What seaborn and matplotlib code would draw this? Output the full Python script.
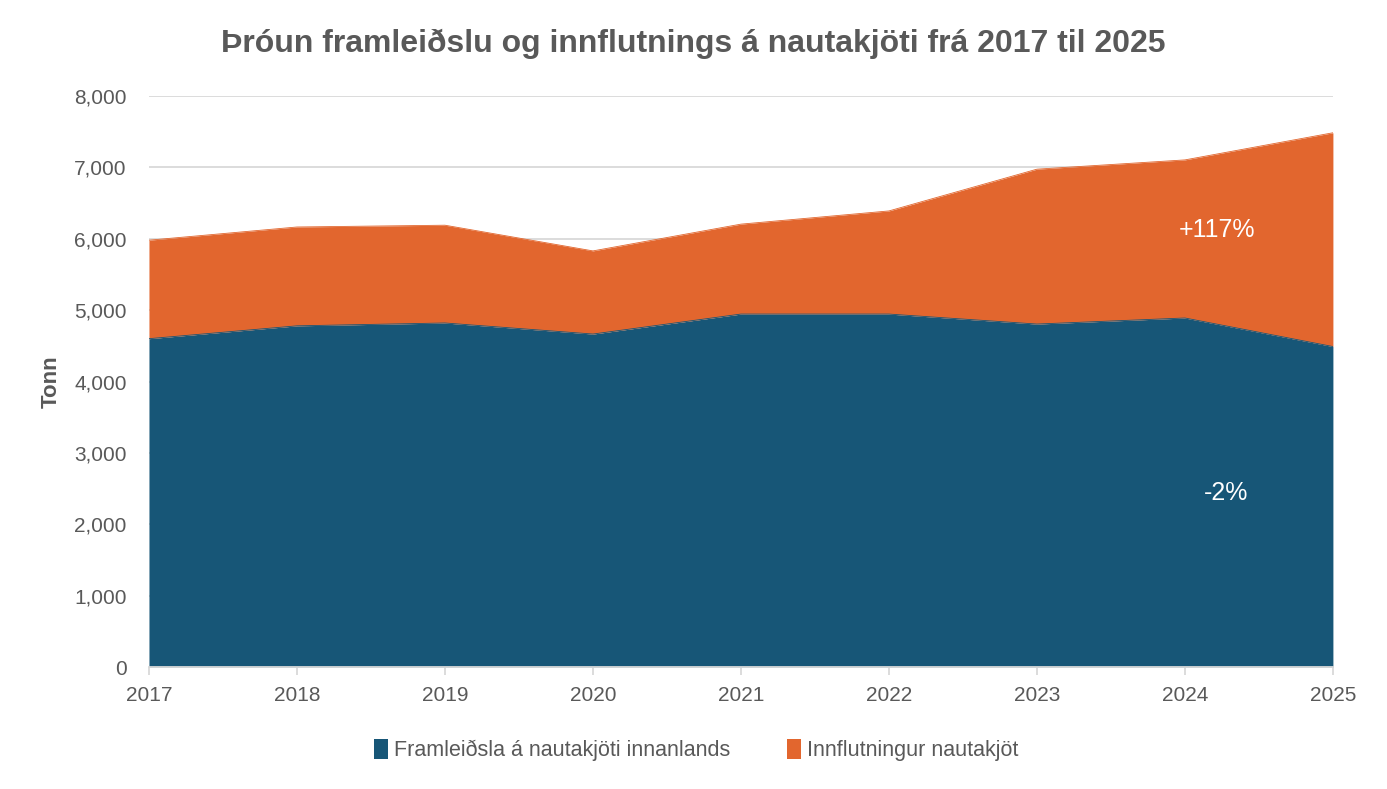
import matplotlib
matplotlib.use("Agg")
import matplotlib.pyplot as plt
import matplotlib.ticker as mticker
from matplotlib.patches import Patch
import seaborn as sns
import pandas as pd

# ── data (tonnes) ──
years = [2017, 2018, 2019, 2020, 2021, 2022, 2023, 2024, 2025]
domestic = [4600, 4780, 4820, 4665, 4945, 4945, 4805, 4890, 4490]
imports = [1380, 1385, 1370, 1165, 1260, 1445, 2170, 2215, 2995]
series_names = ["Framleiðsla á nautakjöti innanlands", "Innflutningur nautakjöt"]
change_labels = ["-2%", "+117%"]

BLUE = "#175677"
ORANGE = "#E2662E"
GREY = "#595959"

sns.set_theme(style="white")
plt.rcParams["font.family"] = ["Liberation Sans", "DejaVu Sans"]

df = pd.DataFrame({"year": years, "domestic": domestic, "imports": imports})
df["total"] = df["domestic"] + df["imports"]

fig = plt.figure(figsize=(13.87, 7.89), dpi=100)
ax = fig.add_axes([0.1074, 0.1546, 0.8536, 0.7237])

ax.stackplot(df["year"], df["domestic"], df["imports"],
             colors=[BLUE, ORANGE], linewidth=0, zorder=2)
# thin edges along the tops of the layers
sns.lineplot(data=df, x="year", y="domestic", color=BLUE, lw=0.6, ax=ax, zorder=3)
sns.lineplot(data=df, x="year", y="total", color=ORANGE, lw=0.6, ax=ax, zorder=3)

ax.set_xlim(years[0], years[-1])
ax.set_ylim(0, 8000)
ax.set_xticks(years)
ax.yaxis.set_major_locator(mticker.MultipleLocator(1000))
ax.yaxis.set_major_formatter(mticker.FuncFormatter(lambda v, _: f"{v:,.0f}"))
ax.grid(axis="y", color="#D9D9D9", lw=1.3, zorder=0)
ax.set_axisbelow(True)

for side in ["top", "right", "left"]:
    ax.spines[side].set_visible(False)
ax.spines["bottom"].set_color("#D9D9D9")
ax.spines["bottom"].set_linewidth(1.3)
ax.spines["bottom"].set_zorder(4)

ax.tick_params(axis="x", which="both", bottom=True, length=6, width=1.3,
               color="#D9D9D9", labelsize=15, labelcolor=GREY, pad=8)
ax.tick_params(axis="y", left=False, labelsize=15, labelcolor=GREY, pad=10)

ax.set_xlabel("")
ax.set_ylabel("Tonn", fontsize=16, fontweight="bold", color=GREY, labelpad=9)

# change labels inside the areas
ax.text(2024.28, 2440, change_labels[0], color="white", fontsize=18,
        ha="center", va="center", zorder=5)
ax.text(2024.22, 6120, change_labels[1], color="white", fontsize=18,
        ha="center", va="center", zorder=5)

fig.text(0.5, 0.945, "Þróun framleiðslu og innflutnings á nautakjöti frá 2017 til 2025",
         ha="center", va="center", fontsize=23, fontweight="bold", color=GREY,
         family=["Liberation Sans Narrow", "Liberation Sans", "DejaVu Sans"])

handles = [Patch(facecolor=BLUE, edgecolor="none"),
           Patch(facecolor=ORANGE, edgecolor="none")]
fig.legend(handles, series_names, loc="center", bbox_to_anchor=(0.502, 0.049),
           ncol=2, frameon=False, fontsize=15.5, labelcolor=GREY,
           handlelength=0.65, handleheight=1.0, handletextpad=0.3, columnspacing=2.6)

fig.savefig("out.png", dpi=100)
